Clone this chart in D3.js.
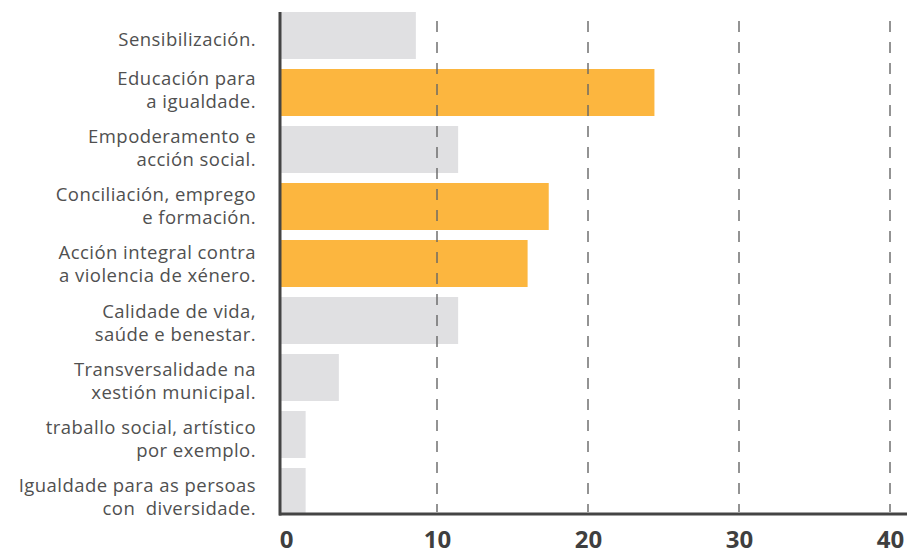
<!DOCTYPE html>
<html lang="gl">

<head>
  <meta charset="utf-8">
  <title>Áreas</title>
  <script src="https://d3js.org/d3.v7.min.js"></script>
  <style>
    body { margin: 0; background: #fff; }
    .cat { font-family: "Open Sans", sans-serif; font-size: 18.5px; letter-spacing: 0.45px; fill: #505050; white-space: pre; }
    .tick text { font-family: "Open Sans", sans-serif; font-weight: 700; font-size: 24px; fill: #3f3f3f; }
  </style>
</head>

<body>
  <script>
    var W = 913, H = 554;

    var categories = [
      ['Sensibilización.'],
      ['Educación para', 'a igualdade.'],
      ['Empoderamento e', 'acción social.'],
      ['Conciliación, emprego', 'e formación.'],
      ['Acción integral contra', 'a violencia de xénero.'],
      ['Calidade de vida,', 'saúde e benestar.'],
      ['Transversalidade na', 'xestión municipal.'],
      ['traballo social, artístico', 'por exemplo.'],
      ['Igualdade para as persoas', 'con  diversidade.']
    ];
    var values = [8.6, 24.4, 11.4, 17.4, 16.0, 11.4, 3.5, 1.3, 1.3];
    var highlight = [false, true, false, true, true, false, false, false, false];
    var ticks = [0, 10, 20, 30, 40];

    var svg = d3.select('body').append('svg')
      .attr('width', W)
      .attr('height', H);

    var x = d3.scaleLinear().domain([0, 40]).range([286, 890]);
    var axisX = x(0) - 6; // o eixo vertical queda un pouco á esquerda do cero
    var y = d3.scaleBand()
      .domain(d3.range(categories.length))
      .range([12, 515])
      .paddingInner(10 / 57)
      .paddingOuter(0);

    // barras
    svg.selectAll('.bar')
      .data(values)
      .enter().append('rect')
      .attr('class', 'bar')
      .attr('x', axisX)
      .attr('y', function(d, i) { return y(i); })
      .attr('width', function(d) { return x(d) - axisX; })
      .attr('height', y.bandwidth())
      .style('fill', function(d, i) { return highlight[i] ? '#fcb63f' : '#e0e0e2'; });

    // liñas de guía por riba das barras
    svg.selectAll('.grid')
      .data(ticks.slice(1))
      .enter().append('line')
      .attr('class', 'grid')
      .attr('x1', function(d) { return x(d); })
      .attr('x2', function(d) { return x(d); })
      .attr('y1', 21)
      .attr('y2', 512)
      .style('stroke', '#666')
      .style('stroke-width', 1.4)
      .style('stroke-dasharray', '11,10');

    // eixo x
    var xAxis = svg.append('g')
      .attr('transform', 'translate(0,514)')
      .call(d3.axisBottom(x).tickValues(ticks).tickSize(0).tickPadding(17));
    xAxis.select('.domain').remove();
    xAxis.selectAll('.tick text').attr('dy', '0.71em');

    svg.append('line')
      .attr('x1', axisX - 1).attr('x2', 907)
      .attr('y1', 514).attr('y2', 514)
      .style('stroke', '#444').style('stroke-width', 3);

    svg.append('line')
      .attr('x1', axisX).attr('x2', axisX)
      .attr('y1', 12).attr('y2', 515.5)
      .style('stroke', '#444').style('stroke-width', 3);

    // etiquetas das categorías
    var labels = svg.selectAll('.cat')
      .data(categories)
      .enter().append('text')
      .attr('class', 'cat')
      .attr('text-anchor', 'end')
      .attr('dominant-baseline', 'central');

    labels.each(function(lines, i) {
      var c = y(i) + y.bandwidth() / 2;
      var t = d3.select(this);
      if (lines.length === 1) {
        t.append('tspan').attr('x', 256).attr('y', c + 2.5).text(lines[0]);
      } else {
        var off = -16.5 + i * 1.1;
        t.append('tspan').attr('x', 256).attr('y', c + off).text(lines[0]);
        t.append('tspan').attr('x', 256).attr('y', c + off + 23).text(lines[1]);
      }
    });
  </script>
</body>

</html>
